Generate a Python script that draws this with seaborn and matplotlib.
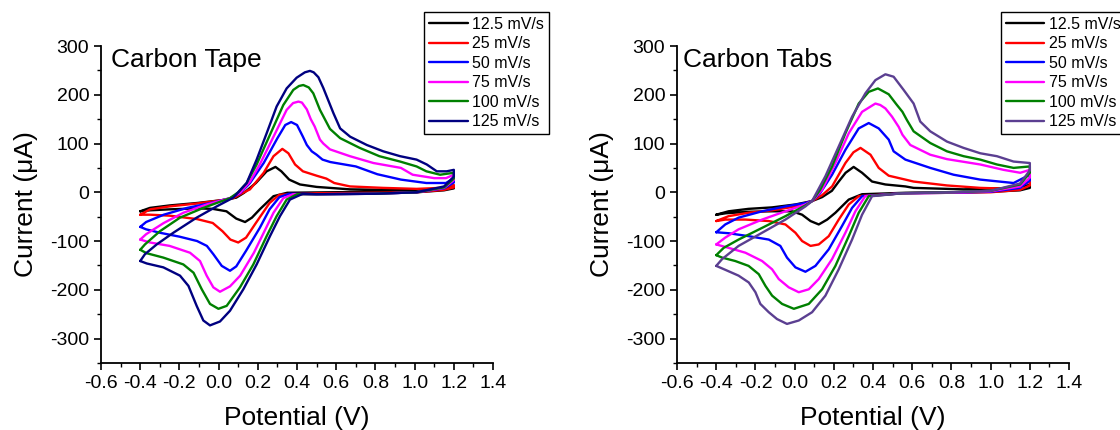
import matplotlib
matplotlib.use("Agg")
import matplotlib.pyplot as plt
from matplotlib.ticker import MultipleLocator, FormatStrFormatter
import pandas as pd
import seaborn as sns

rates = ["12.5 mV/s", "25 mV/s", "50 mV/s", "75 mV/s", "100 mV/s", "125 mV/s"]
tape_colors = ["#000000", "#ff0000", "#0000ff", "#ff00ff", "#008000", "#000080"]
tabs_colors = ["#000000", "#ff0000", "#0000ff", "#ff00ff", "#008000", "#5b3f91"]

# ---- Carbon Tape: forward scan (-0.4 -> 1.2 V) then reverse scan ----
tape_v_12 = [-0.40, -0.35, -0.25, -0.11, 0.02, 0.09, 0.13, 0.19, 0.245, 0.29, 0.32, 0.36, 0.415, 0.50, 0.67, 0.85, 1.00, 1.13, 1.20,
             1.20, 1.15, 1.01, 0.80, 0.57, 0.35, 0.28, 0.21, 0.17, 0.135, 0.09, 0.04, -0.03, -0.11, -0.25, -0.35, -0.40]
tape_i_12 = [-39, -32, -27, -22, -16, -11, -1, 19, 43, 52, 43, 26, 16, 11, 6, 5, 5, 7, 13,
             8, 4, 0, 1, 0, -1, -8, -35, -52, -61, -54, -39, -34, -33, -35, -37, -39]

tape_v_25 = [-0.40, -0.35, -0.25, -0.11, 0.02, 0.075, 0.12, 0.16, 0.23, 0.28, 0.325, 0.356, 0.39, 0.43, 0.50, 0.55, 0.59, 0.67, 0.84, 1.01, 1.13, 1.20,
             1.20, 1.15, 1.01, 0.80, 0.50, 0.31, 0.26, 0.19, 0.14, 0.10, 0.06, 0.02, -0.03, -0.11, -0.25, -0.35, -0.40]
tape_i_25 = [-46, -35, -29, -23, -16, -12, -2, 6, 40, 74, 89, 80, 57, 43, 34, 28, 19, 12, 9, 7, 9, 15,
             10, 5, 0, -1, -2, -5, -22, -63, -93, -103, -97, -80, -63, -55, -48, -46, -46]

tape_v_50 = [-0.40, -0.37, -0.28, -0.16, -0.04, 0.06, 0.11, 0.16, 0.23, 0.30, 0.34, 0.37, 0.40, 0.43, 0.45, 0.475, 0.50, 0.53, 0.57, 0.70, 0.81, 0.93, 1.06, 1.16, 1.20,
             1.20, 1.15, 1.01, 0.80, 0.50, 0.36, 0.31, 0.26, 0.21, 0.14, 0.09, 0.058, 0.016, -0.027, -0.06, -0.11, -0.20, -0.30, -0.37, -0.40]
tape_i_50 = [-71, -61, -46, -32, -22, -12, -2, 19, 60, 111, 138, 144, 138, 114, 97, 84, 77, 67, 62, 53, 37, 26, 19, 19, 29,
             20, 8, 0, -3, -4, -3, -10, -35, -73, -120, -152, -161, -151, -127, -110, -100, -91, -83, -76, -71]

tape_v_75 = [-0.40, -0.37, -0.28, -0.18, -0.06, 0.058, 0.11, 0.16, 0.21, 0.28, 0.347, 0.38, 0.407, 0.425, 0.45, 0.47, 0.49, 0.517, 0.534, 0.568, 0.67, 0.79, 0.93, 0.99, 1.10, 1.16, 1.20,
             1.20, 1.15, 1.01, 0.80, 0.50, 0.38, 0.33, 0.28, 0.23, 0.18, 0.11, 0.058, 0.007, -0.027, -0.061, -0.095, -0.146, -0.25, -0.35, -0.40]
tape_i_75 = [-97, -86, -63, -42, -25, -12, -1, 22, 57, 114, 169, 183, 186, 184, 170, 150, 135, 108, 100, 88, 74, 60, 50, 36, 29, 29, 36,
             25, 9, 0, -3, -4, -4, -12, -42, -83, -124, -171, -193, -204, -195, -171, -141, -124, -110, -103, -97]

tape_v_100 = [-0.40, -0.376, -0.30, -0.197, -0.078, 0.058, 0.10, 0.143, 0.194, 0.262, 0.33, 0.381, 0.41, 0.432, 0.46, 0.483, 0.517, 0.568, 0.62, 0.72, 0.82, 0.926, 1.01, 1.06, 1.13, 1.20,
              1.20, 1.15, 1.01, 0.80, 0.50, 0.40, 0.347, 0.296, 0.245, 0.177, 0.109, 0.041, -0.001, -0.044, -0.086, -0.128, -0.18, -0.282, -0.367, -0.40]
tape_i_100 = [-118, -107, -80, -52, -32, -12, 0, 19, 57, 118, 179, 210, 218, 220, 215, 203, 169, 130, 111, 91, 74, 63, 53, 43, 36, 40,
              28, 10, 0, -3, -4, -4, -15, -49, -90, -148, -195, -233, -239, -229, -199, -165, -148, -134, -125, -118]

tape_v_125 = [-0.40, -0.376, -0.316, -0.231, -0.112, -0.01, 0.075, 0.143, 0.194, 0.245, 0.296, 0.347, 0.398, 0.44, 0.466, 0.485, 0.509, 0.534, 0.552, 0.586, 0.62, 0.671, 0.756, 0.84, 0.926, 1.01, 1.062, 1.113, 1.164, 1.20,
              1.20, 1.15, 1.01, 0.80, 0.50, 0.43, 0.364, 0.313, 0.262, 0.194, 0.126, 0.058, 0.007, -0.044, -0.078, -0.112, -0.154, -0.197, -0.282, -0.367, -0.40]
tape_i_125 = [-141, -127, -107, -83, -52, -29, -11, 19, 67, 121, 176, 213, 235, 246, 249, 246, 236, 214, 196, 162, 131, 114, 97, 84, 74, 67, 57, 43, 43, 46,
              32, 12, 0, -3, -4, -3, -15, -49, -90, -148, -199, -243, -265, -273, -263, -233, -192, -171, -154, -146, -141]

# ---- Carbon Tabs ----
tabs_v_12 = [-0.40, -0.337, -0.235, -0.115, 0.004, 0.089, 0.14, 0.19, 0.225, 0.26, 0.301, 0.344, 0.395, 0.463, 0.565, 0.607, 0.862, 1.117, 1.20,
             1.20, 1.15, 1.00, 0.80, 0.565, 0.344, 0.276, 0.208, 0.166, 0.123, 0.081, 0.038, -0.013, -0.115, -0.235, -0.35, -0.40]
tabs_i_12 = [-46, -39, -34, -31, -25, -18, -10, 3, 22, 40, 52, 40, 22, 16, 12, 9, 6, 9, 15,
             9, 4, 1, 0, -1, -4, -15, -42, -56, -66, -59, -46, -39, -39, -40, -43, -46]

tabs_v_25 = [-0.40, -0.337, -0.235, -0.115, 0.004, 0.072, 0.089, 0.14, 0.191, 0.259, 0.30, 0.336, 0.387, 0.429, 0.48, 0.565, 0.607, 0.777, 0.947, 1.117, 1.20,
             1.20, 1.15, 1.00, 0.80, 0.55, 0.327, 0.276, 0.225, 0.174, 0.123, 0.081, 0.038, 0.004, -0.047, -0.132, -0.251, -0.354, -0.40]
tabs_i_25 = [-59, -49, -42, -37, -29, -20, -18, -6, 12, 60, 82, 91, 77, 50, 34, 26, 22, 14, 9, 7, 22,
             14, 5, 0, -1, -2, -8, -25, -56, -90, -107, -110, -100, -83, -66, -59, -56, -56, -59]

tabs_v_50 = [-0.40, -0.354, -0.286, -0.166, -0.047, 0.055, 0.089, 0.13, 0.191, 0.259, 0.327, 0.378, 0.429, 0.48, 0.505, 0.565, 0.692, 0.811, 0.947, 1.117, 1.20,
             1.20, 1.15, 1.00, 0.80, 0.55, 0.344, 0.293, 0.242, 0.174, 0.106, 0.055, 0.004, -0.039, -0.073, -0.132, -0.235, -0.337, -0.40]
tabs_i_50 = [-82, -66, -52, -39, -29, -22, -18, -2, 36, 87, 131, 142, 131, 108, 84, 67, 50, 36, 26, 19, 36,
             24, 9, 1, -1, -2, -8, -32, -69, -117, -151, -163, -154, -134, -110, -97, -90, -84, -82]

tabs_v_75 = [-0.40, -0.354, -0.286, -0.166, -0.047, 0.055, 0.089, 0.14, 0.208, 0.276, 0.344, 0.412, 0.437, 0.463, 0.497, 0.531, 0.55, 0.59, 0.692, 0.777, 0.947, 1.066, 1.151, 1.20,
             1.20, 1.15, 1.00, 0.80, 0.55, 0.36, 0.31, 0.259, 0.191, 0.123, 0.072, 0.021, -0.03, -0.081, -0.115, -0.166, -0.251, -0.337, -0.40]
tabs_i_75 = [-107, -93, -76, -56, -39, -25, -18, 5, 60, 121, 165, 182, 179, 172, 155, 134, 118, 97, 77, 68, 57, 46, 40, 46,
             30, 12, 2, -1, -2, -8, -39, -83, -137, -178, -199, -205, -195, -178, -158, -141, -124, -114, -107]

tabs_v_100 = [-0.40, -0.362, -0.286, -0.166, -0.047, 0.055, 0.089, 0.13, 0.191, 0.259, 0.327, 0.378, 0.425, 0.48, 0.52, 0.55, 0.573, 0.607, 0.692, 0.777, 0.862, 0.947, 1.032, 1.117, 1.20,
              1.20, 1.15, 1.00, 0.80, 0.55, 0.378, 0.327, 0.276, 0.208, 0.14, 0.072, -0.004, -0.064, -0.115, -0.149, -0.183, -0.235, -0.303, -0.37, -0.40]
tabs_i_100 = [-129, -114, -97, -73, -49, -27, -18, 5, 53, 121, 182, 206, 213, 201, 180, 165, 148, 125, 101, 84, 74, 67, 57, 50, 53,
              40, 16, 3, 0, -2, -8, -42, -90, -151, -199, -229, -239, -229, -212, -192, -168, -151, -141, -134, -129]

tabs_v_125 = [-0.40, -0.37, -0.286, -0.166, -0.047, 0.055, 0.089, 0.157, 0.225, 0.293, 0.361, 0.412, 0.463, 0.505, 0.556, 0.607, 0.641, 0.692, 0.777, 0.862, 0.947, 1.032, 1.117, 1.20,
              1.20, 1.15, 1.00, 0.80, 0.55, 0.395, 0.344, 0.293, 0.225, 0.157, 0.089, 0.021, -0.039, -0.09, -0.132, -0.175, -0.20, -0.234, -0.286, -0.354, -0.40]
tabs_i_125 = [-151, -137, -110, -83, -56, -29, -18, 33, 94, 155, 203, 230, 242, 237, 210, 182, 145, 125, 104, 91, 80, 74, 63, 60,
              45, 18, 3, 0, -2, -8, -46, -97, -158, -212, -246, -263, -270, -260, -246, -229, -205, -185, -171, -159, -151]

tape_curves = [(tape_v_12, tape_i_12), (tape_v_25, tape_i_25), (tape_v_50, tape_i_50),
               (tape_v_75, tape_i_75), (tape_v_100, tape_i_100), (tape_v_125, tape_i_125)]
tabs_curves = [(tabs_v_12, tabs_i_12), (tabs_v_25, tabs_i_25), (tabs_v_50, tabs_i_50),
               (tabs_v_75, tabs_i_75), (tabs_v_100, tabs_i_100), (tabs_v_125, tabs_i_125)]


def make_frame(curves):
    parts = []
    for rate, (v, i) in zip(rates, curves):
        parts.append(pd.DataFrame({"Potential": v, "Current": i, "Rate": rate}))
    return pd.concat(parts, ignore_index=True)


sns.set_style("ticks")
plt.rcParams["font.family"] = ["Liberation Sans", "DejaVu Sans"]
plt.rcParams["axes.unicode_minus"] = False
plt.rcParams["text.color"] = "black"
plt.rcParams["axes.labelcolor"] = "black"
plt.rcParams["xtick.color"] = "black"
plt.rcParams["ytick.color"] = "black"

fig = plt.figure(figsize=(11.2, 4.3), dpi=100)
ax1 = fig.add_axes([0.0902, 0.156, 0.35, 0.737])
ax2 = fig.add_axes([0.6045, 0.156, 0.35, 0.737])

panels = [(ax1, tape_curves, tape_colors, "Carbon Tape", 0.379, 0.026),
          (ax2, tabs_curves, tabs_colors, "Carbon Tabs", 0.894, 0.015)]

for ax, curves, colors, name, leg_x, txt_x in panels:
    df = make_frame(curves)
    sns.lineplot(data=df, x="Potential", y="Current", hue="Rate", hue_order=rates,
                 palette=colors, sort=False, estimator=None, linewidth=1.7, ax=ax)
    for line in ax.lines:
        line.set_solid_joinstyle("round")

    ax.set_xlim(-0.6, 1.4)
    ax.set_ylim(-350, 300)
    ax.xaxis.set_major_locator(MultipleLocator(0.2))
    ax.xaxis.set_minor_locator(MultipleLocator(0.1))
    ax.yaxis.set_major_locator(MultipleLocator(100))
    ax.yaxis.set_minor_locator(MultipleLocator(50))
    ax.xaxis.set_major_formatter(FormatStrFormatter("%.1f"))
    ax.tick_params(which="major", direction="out", length=5, width=1.2, labelsize=14)
    ax.tick_params(which="minor", direction="out", length=3, width=1.0)
    for s in ["top", "right"]:
        ax.spines[s].set_visible(False)
    for s in ["left", "bottom"]:
        ax.spines[s].set_linewidth(1.3)
        ax.spines[s].set_color("black")

    ax.set_xlabel("Potential (V)", fontsize=19, labelpad=10)
    ax.set_ylabel("Current (\u03bcA)", fontsize=19, labelpad=9)
    ax.text(txt_x, 0.956, name, transform=ax.transAxes, fontsize=19, ha="left", va="center")

    sns.move_legend(ax, "upper left", bbox_to_anchor=(leg_x, 0.972), bbox_transform=fig.transFigure,
                    title=None, fontsize=11.5, frameon=True, fancybox=False, framealpha=1,
                    edgecolor="black", borderpad=0.3, labelspacing=0.28, handlelength=2.4,
                    handletextpad=0.3, borderaxespad=0)
    ax.get_legend().get_frame().set_linewidth(1.0)

fig.savefig("out.png", dpi=100)
